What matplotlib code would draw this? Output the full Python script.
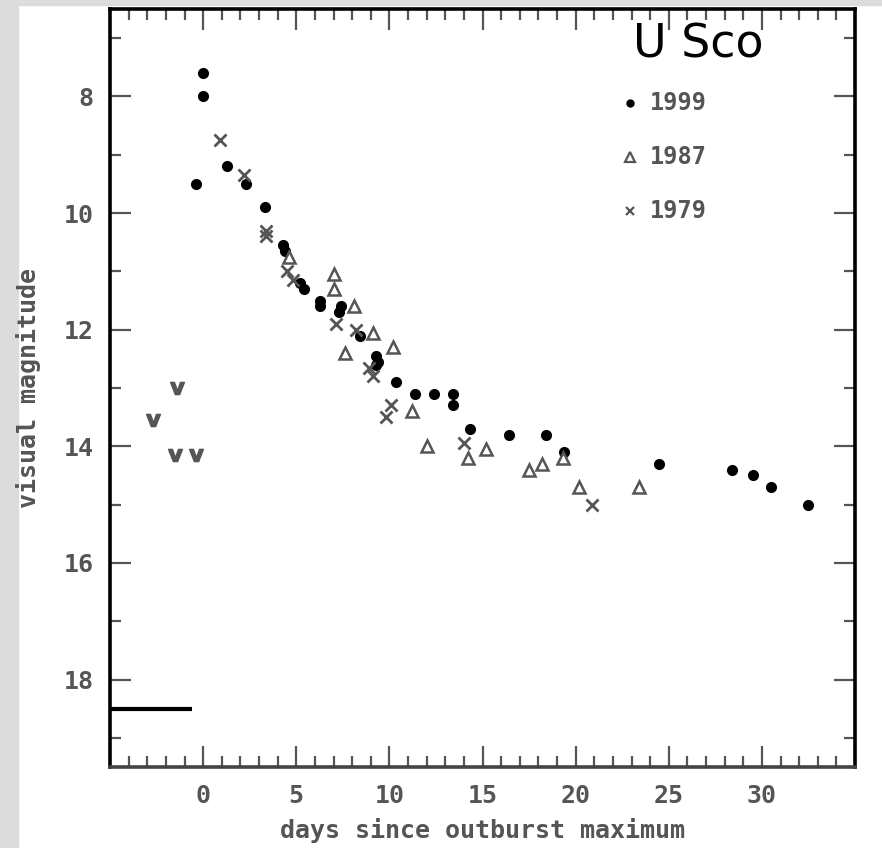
import numpy as np
import matplotlib.pyplot as plt
from matplotlib.patches import Rectangle

# light curves of the recurrent nova U Sco
days_1999 = [0.0, 0.0, -0.4, 1.3, 2.3, 3.3, 4.3, 4.4, 5.2, 5.4, 6.3, 6.3,
             7.3, 7.4, 8.4, 9.3, 9.3, 9.4, 10.35, 11.4, 12.4, 13.4, 13.4,
             14.35, 16.4, 18.4, 19.4, 24.5, 28.4, 29.5, 30.5, 32.5]
mag_1999 = [7.6, 8.0, 9.5, 9.2, 9.5, 9.9, 10.55, 10.65, 11.2, 11.3, 11.5, 11.6,
            11.7, 11.6, 12.1, 12.45, 12.6, 12.55, 12.9, 13.1, 13.1, 13.1, 13.3,
            13.7, 13.8, 13.8, 14.1, 14.3, 14.4, 14.5, 14.7, 15.0]

days_1987 = [4.6, 7.0, 7.0, 8.1, 7.6, 9.1, 10.2, 11.2, 12.0, 14.2, 15.2,
             17.5, 18.2, 19.3, 20.2, 23.4]
mag_1987 = [10.75, 11.05, 11.3, 11.6, 12.4, 12.05, 12.3, 13.4, 14.0, 14.2, 14.05,
            14.4, 14.3, 14.2, 14.7, 14.7]

days_1979 = [0.9, 2.2, 3.4, 3.4, 4.5, 4.8, 7.15, 8.2, 8.9, 9.1, 10.1, 9.8,
             14.0, 20.9]
mag_1979 = [8.75, 9.35, 10.3, 10.4, 11.0, 11.15, 11.9, 12.0, 12.65, 12.8, 13.3, 13.5,
            13.95, 15.0]

# pre-outburst upper limits
days_lim = [-2.7, -1.4, -1.5, -0.4]
mag_lim = [13.55, 13.0, 14.15, 14.15]

quiescence = 18.5
quiescence_days = [-5, -0.6]

gray = '#555555'
mono = 'DejaVu Sans Mono'

fig = plt.figure(figsize=(8.82, 8.48), dpi=100)
fig.patches.append(Rectangle((0, 0), 18 / 882, 1, transform=fig.transFigure,
                             color='#dcdcdc', zorder=-5))
fig.patches.append(Rectangle((0, 1 - 5 / 848), 1, 5 / 848, transform=fig.transFigure,
                             color='#dcdcdc', zorder=-5))
ax = fig.add_axes([110 / 882, 81 / 848, 745 / 882, 758 / 848])

ax.plot(days_1999, mag_1999, 'o', color='black', markersize=7, linestyle='none')
ax.plot(days_1987, mag_1987, '^', markerfacecolor='white', markeredgecolor=gray,
        markeredgewidth=1.8, markersize=9, linestyle='none')
ax.plot(days_1979, mag_1979, 'x', color=gray, markeredgewidth=2, markersize=9,
        linestyle='none')
ax.plot(days_lim, mag_lim, marker=r'$\mathbf{v}$', color=gray, markersize=10,
        linestyle='none')
ax.plot(quiescence_days, [quiescence, quiescence], color='black', linewidth=3,
        solid_capstyle='butt')

ax.set_xlim(-5, 35)
ax.set_ylim(19.5, 6.5)
ax.set_xticks(np.arange(0, 31, 5))
ax.set_xticks(np.arange(-4, 35, 1), minor=True)
ax.set_yticks(np.arange(8, 19, 2))
ax.set_yticks(np.arange(7, 20, 1), minor=True)
ax.tick_params(which='both', direction='in', top=True, right=True, color=gray,
               width=1.6, labelcolor=gray)
ax.tick_params(which='major', length=15, labelsize=18, pad=12)
ax.tick_params(which='minor', length=8)
for lab in ax.get_xticklabels() + ax.get_yticklabels():
    lab.set_family(mono)
    lab.set_weight('bold')
for side in ['left', 'right', 'top']:
    ax.spines[side].set_linewidth(2.6)
    ax.spines[side].set_color('black')
ax.spines['bottom'].set_linewidth(2.6)
ax.spines['bottom'].set_color('#444444')

ax.set_xlabel('days since outburst maximum', family=mono, fontsize=18,
              weight='bold', color=gray)
ax.set_ylabel('visual magnitude', family=mono, fontsize=18, weight='bold',
              color=gray)
ax.xaxis.set_label_coords(0.5, -0.067)
ax.yaxis.set_label_coords(-0.092, 0.5)

# legend drawn as marker + text rows
legend_rows = [('1999', 'o'), ('1987', '^'), ('1979', 'x')]
for i, (year, mk) in enumerate(legend_rows):
    y = 0.876 - i * 0.071
    if mk == 'o':
        ax.plot([0.698], [y], mk, color='black', markersize=5, transform=ax.transAxes)
    elif mk == '^':
        ax.plot([0.698], [y], mk, markerfacecolor='white', markeredgecolor=gray,
                markeredgewidth=1.6, markersize=7, transform=ax.transAxes)
    else:
        ax.plot([0.698], [y], mk, color=gray, markeredgewidth=1.6, markersize=6,
                transform=ax.transAxes)
    ax.text(0.725, y, year, family=mono, fontsize=17, weight='bold', color=gray,
            va='center', ha='left', transform=ax.transAxes)

ax.text(0.789, 0.953, 'U Sco', family='DejaVu Sans', fontsize=33, color='black',
        ha='center', va='center', transform=ax.transAxes)

fig.savefig('out.png', dpi=100)
